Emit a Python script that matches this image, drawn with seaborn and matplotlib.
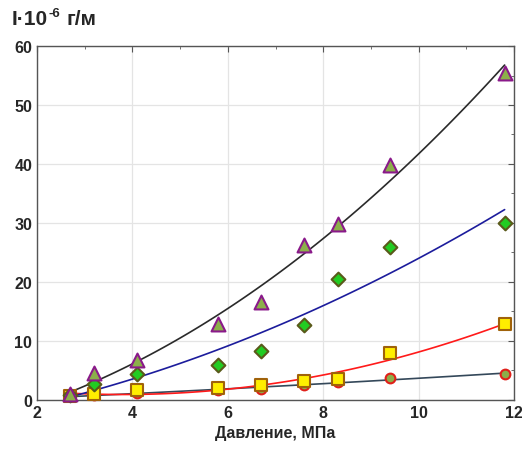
import numpy as np
import pandas as pd
import matplotlib
matplotlib.use("Agg")
import matplotlib.pyplot as plt
import seaborn as sns

pressure = [2.7, 3.2, 4.1, 5.8, 6.7, 7.6, 8.3, 9.4, 11.8]
tri_vals = [1.0, 4.5, 6.7, 12.8, 16.6, 26.2, 29.8, 39.8, 55.5]
dia_vals = [0.8, 2.7, 4.4, 6.0, 8.3, 12.7, 20.5, 25.9, 30.0]
sq_vals = [0.7, 1.0, 1.6, 2.0, 2.5, 3.2, 3.5, 8.0, 12.8]
circ_vals = [0.6, 0.8, 1.1, 1.7, 1.9, 2.6, 3.0, 3.7, 4.4]

sns.set_style("white")
plt.rcParams['font.family'] = ['Liberation Sans', 'DejaVu Sans']
plt.rcParams['font.weight'] = 'bold'

fig = plt.figure(figsize=(5.22, 4.52), dpi=100)
ax = fig.add_axes([0.071, 0.113, 0.914, 0.783])

# series: values, line colour, marker, fill, edge, size
series = [
    (circ_vals, '#34485a', 'o', '#8cae4a', '#e0201a', 7),
    (sq_vals, '#ff1a1a', 's', '#ffee00', '#a0620a', 8),
    (dia_vals, '#1c1c9c', 'D', '#22cc22', '#5a5a1a', 7),
    (tri_vals, '#2a2a2a', '^', '#8cb04a', '#8a1a8a', 10),
]

# trend lines first, markers on top
for vals, lc, mk, fc, ec, ms in series:
    df = pd.DataFrame({'p': pressure, 'v': vals})
    sns.regplot(data=df, x='p', y='v', order=2, ci=None, scatter=False, ax=ax,
                line_kws={'color': lc, 'lw': 1.2})

for vals, lc, mk, fc, ec, ms in series:
    df = pd.DataFrame({'p': pressure, 'v': vals})
    sns.scatterplot(data=df, x='p', y='v', marker=mk, s=ms**2, color=fc,
                    edgecolor=ec, linewidth=1.5, ax=ax, zorder=5, clip_on=False)

ax.set_xlim(2, 12)
ax.set_ylim(0, 60)
ax.set_xticks([2, 4, 6, 8, 10, 12])
ax.set_yticks([0, 10, 20, 30, 40, 50, 60])
ax.set_xticks(np.arange(3, 12, 2), minor=True)
ax.set_yticks(np.arange(5, 60, 10), minor=True)
ax.grid(True, which='major', color='#e4e4e4', lw=0.9)
ax.tick_params(axis='both', which='both', direction='in', top=True, right=True,
               labelsize=11.5, color='#555555')
ax.tick_params(which='major', length=4)
ax.tick_params(which='minor', length=2.5)
for lab in ax.get_xticklabels() + ax.get_yticklabels():
    lab.set_fontweight('bold')
for sp in ax.spines.values():
    sp.set_color('#555555')
    sp.set_linewidth(1)

ax.set_xlabel('Давление, МПа', fontsize=11.5, fontweight='bold', labelpad=4)
ax.set_ylabel('')

# y-axis title above the axes, with a raised exponent
t1 = fig.text(0.022, 0.935, 'I·10', fontsize=15, fontweight='bold',
              ha='left', va='bottom')
t2 = ax.annotate('-6', xy=(1, 0.5), xycoords=t1, xytext=(1, 0),
                 textcoords='offset points', fontsize=9.5, fontweight='bold',
                 ha='left', va='bottom', annotation_clip=False)
ax.annotate('г/м', xy=(1, 0), xycoords=(t2, t1), xytext=(4, 0),
            textcoords='offset points', fontsize=15, fontweight='bold',
            ha='left', va='bottom', annotation_clip=False)

fig.savefig('out.png', dpi=100)
